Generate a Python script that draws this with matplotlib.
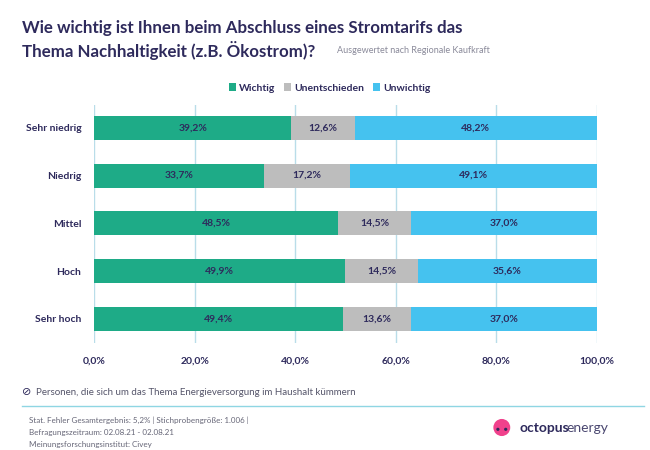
import matplotlib.pyplot as plt
from matplotlib.patches import Patch, Ellipse
from matplotlib.lines import Line2D

categories = ["Sehr niedrig", "Niedrig", "Mittel", "Hoch", "Sehr hoch"]
wichtig = [39.2, 33.7, 48.5, 49.9, 49.4]
unentschieden = [12.6, 17.2, 14.5, 14.5, 13.6]
unwichtig = [48.2, 49.1, 37.0, 35.6, 37.0]
series_names = ["Wichtig", "Unentschieden", "Unwichtig"]
x_ticks = [0, 20, 40, 60, 80, 100]

navy = "#2e2a5c"
colors = ["#1eab87", "#bdbdbd", "#45c2ef"]

plt.rcParams['font.family'] = ['Lato', 'DejaVu Sans']

fig = plt.figure(figsize=(6.5, 4.5), dpi=100)
ax = fig.add_axes([0.1446, 0.238, 0.774, 0.529])

ypos = list(range(len(categories)))
left = [0] * len(categories)
for vals, col in zip([wichtig, unentschieden, unwichtig], colors):
    ax.barh(ypos, vals, left=left, height=0.5, color=col, zorder=2)
    for y, l, v in zip(ypos, left, vals):
        ax.text(l + v / 2, y, f"{v:.1f}%".replace(".", ","), ha='center', va='center',
                fontsize=7.5, color=navy, fontweight='bold', zorder=3)
    left = [a + b for a, b in zip(left, vals)]

ax.set_xlim(0, 100)
ax.set_ylim(4.5, -0.48)
ax.set_xticks(x_ticks)
ax.set_xticklabels([f"{t:.1f}%".replace(".", ",") for t in x_ticks], fontsize=7.5,
                   color=navy, fontweight='bold')
ax.set_yticks(ypos)
ax.set_yticklabels(categories, fontsize=7.5, color=navy, fontweight='bold')
ax.tick_params(length=0)
ax.tick_params(axis='x', pad=10)
ax.tick_params(axis='y', pad=9)
ax.grid(axis='x', color='#b9dde9', linewidth=1, zorder=0)
for s in ax.spines.values():
    s.set_visible(False)

handles = [Patch(facecolor=c, edgecolor='none') for c in colors]
fig.legend(handles, series_names, loc='center', bbox_to_anchor=(0.507, 0.805), ncol=3,
           frameon=False, handlelength=0.7, handleheight=0.9,
           handletextpad=0.3, columnspacing=0.8, labelcolor=navy,
           prop={'weight': 'bold', 'size': 7.5})

fig.text(0.034, 0.937, "Wie wichtig ist Ihnen beim Abschluss eines Stromtarifs das",
         fontsize=12.2, color=navy, fontweight='bold', va='center')
fig.text(0.034, 0.888, "Thema Nachhaltigkeit (z.B. Ökostrom)?",
         fontsize=12.2, color=navy, fontweight='bold', va='center')
fig.text(0.518, 0.888, "Ausgewertet nach Regionale Kaufkraft", fontsize=6.5,
         color='#8a8a9a', va='center')

fig.text(0.034, 0.128, "⊘", fontsize=8, color=navy, va='center', family='DejaVu Sans')
fig.text(0.055, 0.128, "Personen, die sich um das Thema Energieversorgung im Haushalt kümmern",
         fontsize=7, color='#55556a', va='center')
fig.add_artist(Line2D([0.034, 0.99], [0.098, 0.098], color='#8fd6e3', linewidth=1))

footer = ["Stat. Fehler Gesamtergebnis: 5,2% | Stichprobengröße: 1.006 |",
          "Befragungszeitraum: 02.08.21 - 02.08.21",
          "Meinungsforschungsinstitut: Civey"]
for i, line in enumerate(footer):
    fig.text(0.045, 0.067 - i * 0.027, line, fontsize=5.8, color='#666677', va='center')

# octopus logo
fig.add_artist(Ellipse((0.772, 0.05), 0.026, 0.038, transform=fig.transFigure,
                       facecolor='#f0418c', edgecolor='none'))
fig.add_artist(Ellipse((0.766, 0.046), 0.005, 0.007, transform=fig.transFigure,
                       facecolor=navy, edgecolor='none'))
fig.add_artist(Ellipse((0.778, 0.046), 0.005, 0.007, transform=fig.transFigure,
                       facecolor=navy, edgecolor='none'))
fig.text(0.80, 0.05, "octopus", fontsize=10, fontweight='bold', color=navy, va='center')
fig.text(0.8715, 0.05, "energy", fontsize=10, fontweight='normal', color='#4a4770', va='center')

fig.savefig("out.png", dpi=100, facecolor='white')
